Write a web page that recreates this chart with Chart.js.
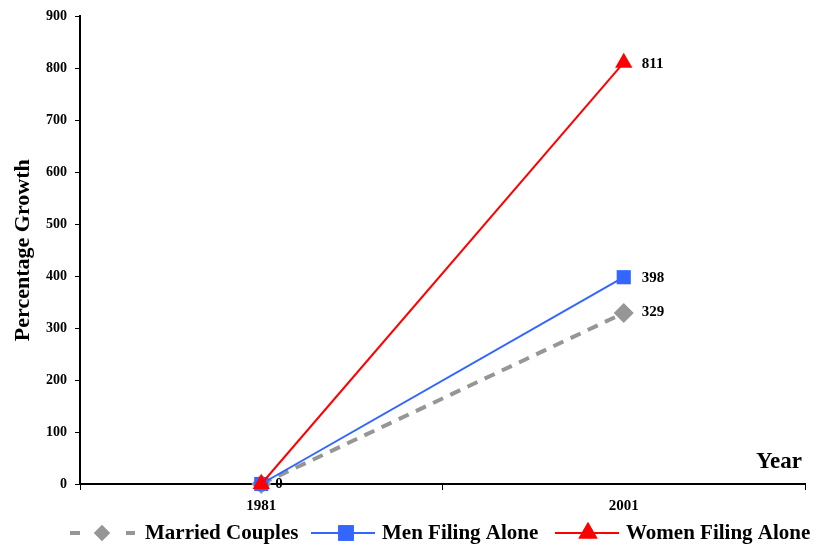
<!DOCTYPE html>
<html>
<head>
<meta charset="utf-8">
<script src="https://cdn.jsdelivr.net/npm/chart.js@4/dist/chart.umd.min.js"></script>
<style>
  html, body { margin: 0; padding: 0; background: #fff; }
  #wrap { width: 817px; height: 545px; }
</style>
</head>
<body>
<div id="wrap"><canvas id="c" width="817" height="545"></canvas></div>
<script>
// Growth in tax filings, 1981 -> 2001 (percent)
const years = ['1981', '2001'];
const marriedCouples = [0, 329];
const menFilingAlone = [0, 398];
const womenFilingAlone = [0, 811];
const yTicks = [0, 100, 200, 300, 400, 500, 600, 700, 800, 900];

const SERIF = '"Liberation Serif", "Times New Roman", serif';
const GRAY = 'rgb(150,150,150)';
const BLUE = 'rgb(51,102,255)';
const RED = 'rgb(255,0,0)';

function marker(ctx, style, radius, x, y, color) {
  ctx.save();
  ctx.fillStyle = color;
  ctx.strokeStyle = color;
  Chart.helpers.drawPoint(ctx, { pointStyle: style, radius: radius, rotation: 0, borderWidth: 0 }, x, y);
  ctx.fill();
  ctx.restore();
}

// Value labels beside the points, year caption and legend row
const decorations = {
  id: 'decorations',
  afterDatasetsDraw(chart) {
    const ctx = chart.ctx;
    const xs = chart.scales.x, ys = chart.scales.y;
    ctx.save();
    ctx.fillStyle = '#000';
    ctx.font = 'bold 15px ' + SERIF;
    ctx.textAlign = 'left';
    ctx.textBaseline = 'middle';
    const x0 = xs.getPixelForValue(0);
    ctx.fillText(String(marriedCouples[0]), x0 + 14, ys.getPixelForValue(marriedCouples[0]));
    const x1 = xs.getPixelForValue(1);
    ctx.fillText(String(womenFilingAlone[1]), x1 + 18, ys.getPixelForValue(womenFilingAlone[1]) + 1);
    ctx.fillText(String(menFilingAlone[1]), x1 + 18, ys.getPixelForValue(menFilingAlone[1]) + 1);
    ctx.fillText(String(marriedCouples[1]), x1 + 18, ys.getPixelForValue(marriedCouples[1]) - 1);

    // "Year" caption above the right end of the axis
    ctx.font = 'bold 23px ' + SERIF;
    ctx.textAlign = 'right';
    ctx.textBaseline = 'alphabetic';
    ctx.fillText('Year', 802, 468);

    // Legend row
    const ly = 533;
    ctx.font = 'bold 21px ' + SERIF;
    ctx.textAlign = 'left';
    ctx.textBaseline = 'middle';
    const ds = chart.data.datasets;

    // Married Couples: short dashes either side of a diamond
    ctx.save();
    ctx.strokeStyle = GRAY;
    ctx.lineWidth = 4;
    ctx.beginPath();
    ctx.moveTo(70, ly); ctx.lineTo(80, ly);
    ctx.moveTo(126, ly); ctx.lineTo(135, ly);
    ctx.stroke();
    ctx.restore();
    marker(ctx, 'rectRot', 8, 102, ly, GRAY);
    ctx.fillStyle = '#000';
    ctx.fillText(ds[0].label, 145, ly + 1);

    // Men Filing Alone
    ctx.save();
    ctx.strokeStyle = BLUE;
    ctx.lineWidth = 2;
    ctx.beginPath();
    ctx.moveTo(311, ly); ctx.lineTo(375, ly);
    ctx.stroke();
    ctx.restore();
    marker(ctx, 'rect', 11, 346, ly, BLUE);
    ctx.fillStyle = '#000';
    ctx.fillText(ds[1].label, 382, ly + 1);

    // Women Filing Alone
    ctx.save();
    ctx.strokeStyle = RED;
    ctx.lineWidth = 2;
    ctx.beginPath();
    ctx.moveTo(555, ly); ctx.lineTo(619, ly);
    ctx.stroke();
    ctx.restore();
    marker(ctx, 'triangle', 11, 588, ly, RED);
    ctx.fillStyle = '#000';
    ctx.fillText(ds[2].label, 626, ly + 1);

    ctx.restore();
  }
};

new Chart(document.getElementById('c'), {
  type: 'line',
  data: {
    labels: years,
    datasets: [
      {
        label: 'Married Couples',
        data: marriedCouples,
        borderColor: GRAY,
        backgroundColor: GRAY,
        borderWidth: 4,
        borderDash: [11, 8],
        pointStyle: 'rectRot',
        pointRadius: 10,
        pointBackgroundColor: GRAY,
        pointBorderColor: GRAY,
        pointBorderWidth: 0,
        tension: 0,
        clip: false,
        order: 3
      },
      {
        label: 'Men Filing Alone',
        data: menFilingAlone,
        borderColor: BLUE,
        backgroundColor: BLUE,
        borderWidth: 2,
        pointStyle: 'rect',
        pointRadius: 10,
        pointBackgroundColor: BLUE,
        pointBorderColor: BLUE,
        pointBorderWidth: 0,
        tension: 0,
        clip: false,
        order: 2
      },
      {
        label: 'Women Filing Alone',
        data: womenFilingAlone,
        borderColor: RED,
        backgroundColor: RED,
        borderWidth: 2,
        pointStyle: 'triangle',
        pointRadius: 10,
        pointBackgroundColor: RED,
        pointBorderColor: RED,
        pointBorderWidth: 0,
        tension: 0,
        clip: false,
        order: 1
      }
    ]
  },
  options: {
    responsive: false,
    animation: false,
    devicePixelRatio: 1,
    layout: { padding: { top: 13, right: 12, left: 0, bottom: 0 } },
    plugins: {
      legend: { display: false },
      tooltip: { enabled: false }
    },
    scales: {
      x: {
        type: 'category',
        offset: true,
        afterFit(scale) { scale.height = 61; },
        grid: {
          offset: true,
          drawOnChartArea: false,
          drawTicks: true,
          tickLength: 6,
          tickWidth: 1,
          tickColor: '#000'
        },
        border: { display: true, color: '#000', width: 2 },
        ticks: {
          color: '#000',
          padding: 7,
          font: { family: SERIF, size: 15, weight: 'bold' }
        }
      },
      y: {
        min: 0,
        max: 900,
        afterFit(scale) { scale.width = 80; },
        afterBuildTicks(scale) { scale.ticks = yTicks.map(v => ({ value: v })); },
        grid: {
          drawOnChartArea: false,
          drawTicks: true,
          tickLength: 5,
          tickColor: '#000'
        },
        border: { display: true, color: '#000', width: 2 },
        title: {
          display: true,
          text: 'Percentage Growth',
          color: '#000',
          padding: { top: 10, bottom: 0 },
          font: { family: SERIF, size: 22, weight: 'bold' }
        },
        ticks: {
          color: '#000',
          padding: 8,
          font: { family: SERIF, size: 14, weight: 'bold' }
        }
      }
    }
  },
  plugins: [decorations]
});
</script>
</body>
</html>
